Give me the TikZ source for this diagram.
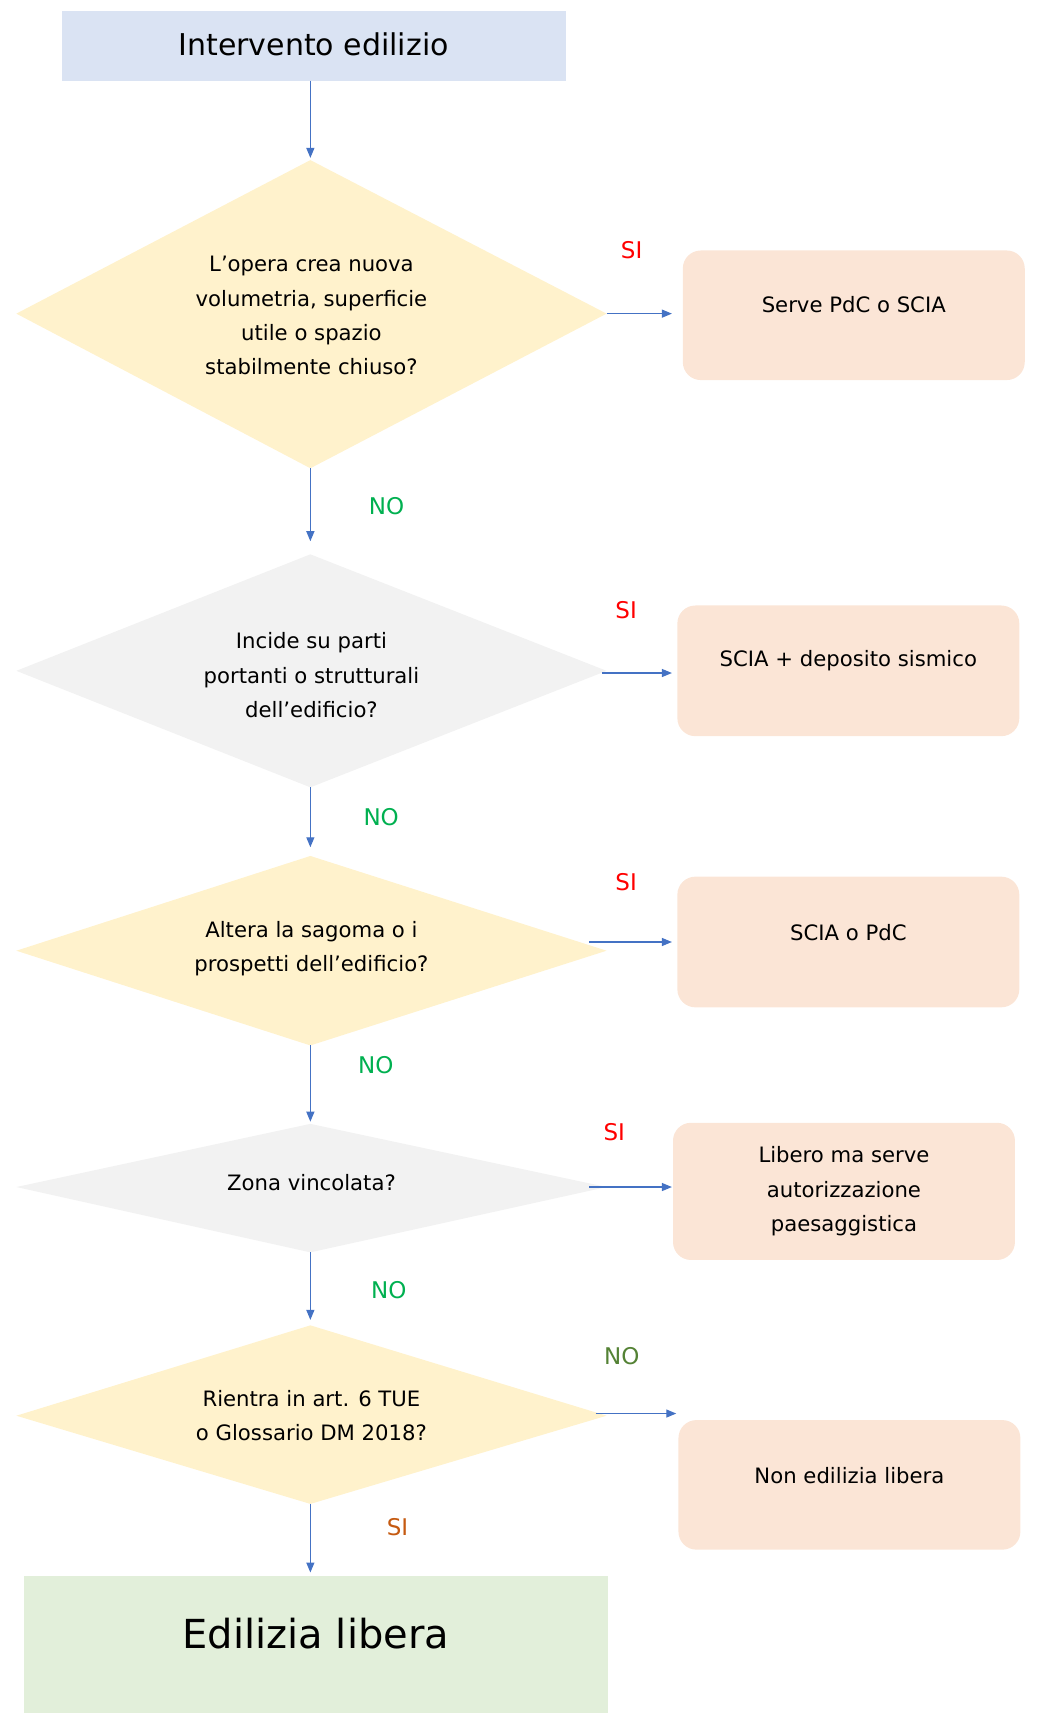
\documentclass[tikz,border=0pt]{standalone}
\usepackage{fontspec}
\setmainfont{DejaVu Sans}
\usetikzlibrary{arrows.meta}
\definecolor{ablue}{HTML}{4472C4}
\definecolor{tblue}{HTML}{DAE3F3}
\definecolor{dyel}{HTML}{FFF2CC}
\definecolor{dgray}{HTML}{F2F2F2}
\definecolor{bpeach}{HTML}{FBE5D6}
\definecolor{bgreen}{HTML}{E2EFDA}
\definecolor{sired}{HTML}{FF0000}
\definecolor{nogreen}{HTML}{00B050}
\definecolor{noolive}{HTML}{548235}
\definecolor{siorange}{HTML}{C55A11}
\tikzset{
 arr/.style={draw=ablue,line width=0.6pt,-{Triangle[length=5pt,width=4pt]}},
 txt/.style={font=\fontsize{10.6}{17.2}\selectfont,align=center},
 res/.style={fill=bpeach,rounded corners=9pt},
 lab/.style={font=\fontsize{11.5}{13}\selectfont},
}
\begin{document}
\begin{tikzpicture}[x=0.5445pt,y=-0.5445pt]
\useasboundingbox (0,0) rectangle (960,1573);
% top
\fill[tblue] (57,10) rectangle (520,74);
\node[font=\fontsize{15}{17}\selectfont] (top) at (288,41) {Intervento edilizio};
% diamonds
\fill[dyel] (15,288)--(285,147)--(557,288)--(285,430)--cycle;
\node[txt] (d1) at (286,290) {L’opera crea nuova\\volumetria, superficie\\utile o spazio\\stabilmente chiuso?};
\fill[dgray] (15,616)--(285,509)--(557,616)--(285,723)--cycle;
\node[txt] (d2) at (286,620) {Incide su parti\\portanti o strutturali\\dell’edificio?};
\fill[dyel] (15,873)--(285,786)--(557,873)--(285,960)--cycle;
\node[txt] (d3) at (286,871) {Altera la sagoma o i\\prospetti dell’edificio?};
\fill[dgray] (15,1090)--(285,1032)--(557,1090)--(285,1150)--cycle;
\node[txt] (d4) at (286,1086) {Zona vincolata?};
\fill[dyel] (15,1300)--(285,1217)--(557,1300)--(285,1381)--cycle;
\node[txt] (d5) at (286,1300) {Rientra in art. 6 TUE\\o Glossario DM 2018?};
% result boxes
\fill[res] (627,230) rectangle (941,349);
\node[txt] (r1) at (784,280) {Serve PdC o SCIA};
\fill[res] (622,556) rectangle (936,676);
\node[txt] (r2) at (779,607) {SCIA + deposito sismico};
\fill[res] (622,805) rectangle (936,925);
\node[txt] (r3) at (779,856) {SCIA o PdC};
\fill[res] (618,1031) rectangle (932,1157);
\node[txt] (r4) at (775,1094) {Libero ma serve\\autorizzazione\\paesaggistica};
\fill[res] (623,1304) rectangle (937,1423);
\node[txt] (r5) at (780,1355) {Non edilizia libera};
\fill[bgreen] (22,1447) rectangle (558,1573);
\node[font=\fontsize{20}{23}\selectfont] (end) at (290,1500) {Edilizia libera};
% coordinates
\coordinate (a0) at (285,74); \coordinate (a1) at (285,145);
\coordinate (b0) at (285,430); \coordinate (b1) at (285,497);
\coordinate (c0) at (285,723); \coordinate (c1) at (285,778);
\coordinate (e0) at (285,960); \coordinate (e1) at (285,1030);
\coordinate (f0) at (285,1150); \coordinate (f1) at (285,1212);
\coordinate (g0) at (285,1381); \coordinate (g1) at (285,1444);
\coordinate (s1a) at (557,288); \coordinate (s1b) at (617,288);
\coordinate (s2a) at (553,618); \coordinate (s2b) at (617,618);
\coordinate (s3a) at (541,865); \coordinate (s3b) at (617,865);
\coordinate (s4a) at (541,1090); \coordinate (s4b) at (617,1090);
\coordinate (s5a) at (547,1298); \coordinate (s5b) at (621,1298);
\foreach \p/\q in {a0/a1,b0/b1,c0/c1,e0/e1,f0/f1,g0/g1,s1a/s1b,s2a/s2b,s3a/s3b,s4a/s4b,s5a/s5b}
  \draw[arr] (\p) -- (\q);
% labels
\node[lab,text=sired] (l1) at (580,230) {SI};
\node[lab,text=sired] (l2) at (575,560) {SI};
\node[lab,text=sired] (l3) at (575,810) {SI};
\node[lab,text=sired] (l4) at (564,1040) {SI};
\node[lab,text=noolive] (l5) at (571,1245) {NO};
\node[lab,text=nogreen] (n1) at (355,465) {NO};
\node[lab,text=nogreen] (n2) at (350,750) {NO};
\node[lab,text=nogreen] (n3) at (345,978) {NO};
\node[lab,text=nogreen] (n4) at (357,1185) {NO};
\node[lab,text=siorange] (n5) at (365,1402) {SI};
\end{tikzpicture}
\end{document}
